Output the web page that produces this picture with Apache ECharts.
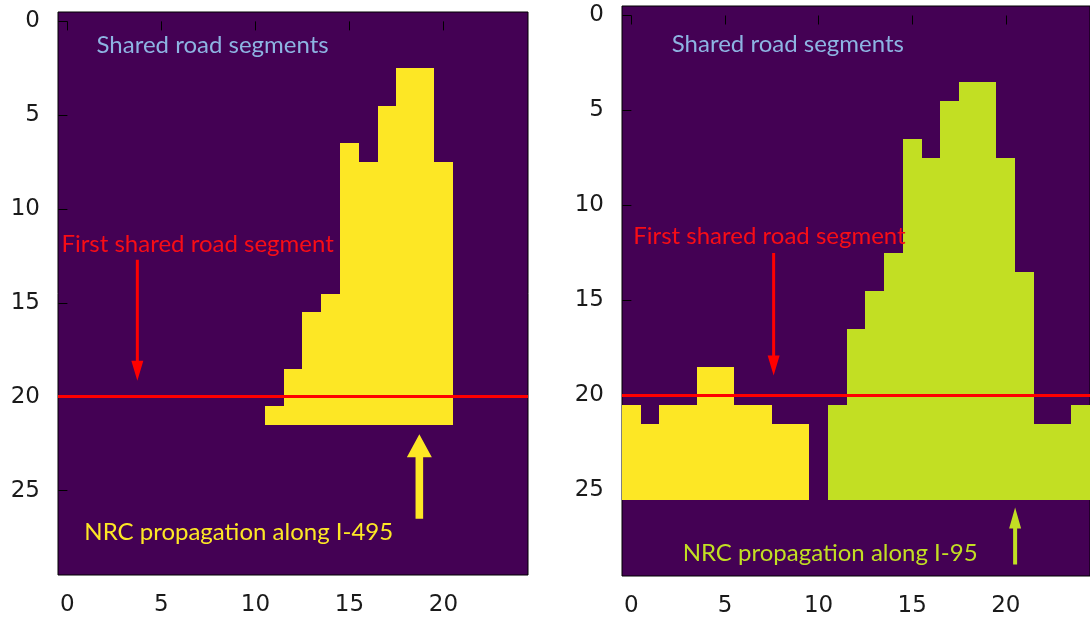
<!DOCTYPE html>
<html>
<head>
<meta charset="utf-8">
<script src="https://cdn.jsdelivr.net/npm/echarts@6/dist/echarts.min.js"></script>
<style>
  html, body { margin: 0; padding: 0; background: #ffffff; }
  #chart { width: 1090px; height: 620px; }
</style>
</head>
<body>
<div id="chart"></div>
<script>
// ---- data -----------------------------------------------------------------
const xTicks = [0, 5, 10, 15, 20];
const yTicks = [0, 5, 10, 15, 20, 25];
const firstSharedRow = 20;

// First occupied row of each road-segment column (null = no congestion);
// occupied cells run from that row down to the panel's last row.
const i495Top = [null, null, null, null, null, null, null, null, null, null, null,
                 21, 19, 16, 15, 7, 8, 5, 3, 3, 8, null, null, null, null];
const i495LastRow = 21;

const i95SharedTop = [21, 22, 21, 21, 19, 19, 21, 21, 22, 22,
                      null, null, null, null, null, null, null, null, null, null, null, null, null, null, null];
const i95Top = [null, null, null, null, null, null, null, null, null, null, null,
                21, 17, 15, 13, 7, 8, 5, 4, 4, 8, 14, 22, 22, 21];
const i95LastRow = 25;

// annotation texts: [x, y, text]
const leftNotes = [
  [1.55, 1.25, 'Shared road segments'],
  [-0.32, 11.9, 'First shared road segment'],
  [0.9, 27.2, 'NRC propagation along I-495']
];
const rightNotes = [
  [2.16, 1.5, 'Shared road segments'],
  [0.1, 11.6, 'First shared road segment'],
  [2.74, 28.3, 'NRC propagation along I-95']
];

// arrows: [x, tail y, tip y]
const leftArrows = [
  [3.72, 12.7, 19.15],
  [18.72, 26.5, 22.0]
];
const rightArrows = [
  [7.6, 12.5, 18.95],
  [20.5, 28.9, 25.9]
];

// ---- styles ---------------------------------------------------------------
const BG = '#440154';
const YELLOW = '#fde725';
const GREEN = '#c2df23';
const RED = '#ff0000';
const BLUE = '#8db4e2';
const noteColors = [BLUE, '#f80d16', null];
const noteFont = 'Lato, "Open Sans", sans-serif';
const noteSize = 24;
// arrow geometry in pixels: shaft half width, head half width, head length
const leftArrowStyle = [
  { color: RED, shaft: 1.5, head: 6, len: 20 },
  { color: YELLOW, shaft: 3.8, head: 12.5, len: 23 }
];
const rightArrowStyle = [
  { color: RED, shaft: 1.5, head: 6, len: 20 },
  { color: GREEN, shaft: 2, head: 6, len: 21 }
];

function columns(tops, lastRow) {
  const out = [];
  tops.forEach((t, c) => { if (t !== null) out.push([c, t, lastRow]); });
  return out;
}

function cellSeries(tops, lastRow, color, idx) {
  return {
    type: 'custom',
    xAxisIndex: idx, yAxisIndex: idx,
    z: 2,
    silent: true,
    animation: false,
    data: columns(tops, lastRow),
    renderItem: function (params, api) {
      const c = api.value(0), top = api.value(1), last = api.value(2);
      const p1 = api.coord([c - 0.5, top - 0.5]);
      const p2 = api.coord([c + 0.5, last + 0.5]);
      // snap to whole pixels so neighbouring columns meet without seams
      const x0 = Math.round(Math.min(p1[0], p2[0])), x1 = Math.round(Math.max(p1[0], p2[0]));
      const y0 = Math.round(Math.min(p1[1], p2[1])), y1 = Math.round(Math.max(p1[1], p2[1]));
      return {
        type: 'rect',
        shape: { x: x0, y: y0, width: x1 - x0, height: y1 - y0 },
        style: { fill: color }
      };
    }
  };
}

function arrowSeries(arrows, styles, idx) {
  return {
    type: 'custom',
    xAxisIndex: idx, yAxisIndex: idx,
    z: 6,
    silent: true,
    animation: false,
    data: arrows,
    renderItem: function (params, api) {
      const s = styles[params.dataIndex];
      const x = api.value(0);
      const tail = api.coord([x, api.value(1)]);
      const tip = api.coord([x, api.value(2)]);
      const dx = tip[0] - tail[0], dy = tip[1] - tail[1];
      const d = Math.sqrt(dx * dx + dy * dy);
      const ux = dx / d, uy = dy / d, nx = -uy, ny = ux;
      const bx = tip[0] - ux * s.len, by = tip[1] - uy * s.len;
      const pts = [
        [tail[0] + nx * s.shaft, tail[1] + ny * s.shaft],
        [bx + nx * s.shaft, by + ny * s.shaft],
        [bx + nx * s.head, by + ny * s.head],
        [tip[0], tip[1]],
        [bx - nx * s.head, by - ny * s.head],
        [bx - nx * s.shaft, by - ny * s.shaft],
        [tail[0] - nx * s.shaft, tail[1] - ny * s.shaft]
      ];
      return { type: 'polygon', shape: { points: pts }, style: { fill: s.color } };
    }
  };
}

function noteSeries(notes, lastColor, idx) {
  return {
    type: 'custom',
    xAxisIndex: idx, yAxisIndex: idx,
    z: 7,
    silent: true,
    animation: false,
    clip: false,
    data: notes,
    renderItem: function (params, api) {
      const p = api.coord([api.value(0), api.value(1)]);
      const fill = noteColors[params.dataIndex] || lastColor;
      return {
        type: 'text',
        x: p[0], y: p[1],
        style: {
          text: notes[params.dataIndex][2],
          fill: fill,
          font: noteSize + 'px ' + noteFont,
          align: 'left', verticalAlign: 'middle',
          textAlign: 'left', textVerticalAlign: 'middle'
        }
      };
    }
  };
}

function xAxis(idx) {
  return {
    type: 'value', gridIndex: idx, min: -0.5, max: 24.5,
    axisLine: { show: false },
    splitLine: { show: false },
    axisTick: { show: true, customValues: xTicks, length: 9, lineStyle: { color: '#000', width: 1 } },
    axisLabel: { customValues: xTicks, fontFamily: '"DejaVu Sans"', fontSize: 23, color: '#1a1a1a', margin: 19 }
  };
}
function yAxis(idx) {
  return {
    type: 'value', gridIndex: idx, min: -0.5, max: 29.5, inverse: true,
    axisLine: { show: false },
    splitLine: { show: false },
    axisTick: { show: true, customValues: yTicks, length: 9, lineStyle: { color: '#000', width: 1 } },
    axisLabel: { customValues: yTicks, fontFamily: '"DejaVu Sans"', fontSize: 23, color: '#1a1a1a', margin: 18 }
  };
}

const redLine = {
  silent: true,
  animation: false,
  symbol: ['none', 'none'],
  label: { show: false },
  lineStyle: { color: RED, width: 3, type: 'solid' },
  data: [{ yAxis: firstSharedRow }]
};

const chart = echarts.init(document.getElementById('chart'), null, { renderer: 'canvas' });
chart.setOption({
  animation: false,
  backgroundColor: '#ffffff',
  grid: [
    { left: 58, top: 12, width: 470, height: 563, show: true, backgroundColor: BG, borderColor: '#000', borderWidth: 1 },
    { left: 622, top: 6, width: 475, height: 570, show: true, backgroundColor: BG, borderColor: '#000', borderWidth: 1 }
  ],
  xAxis: [xAxis(0), xAxis(1)],
  yAxis: [yAxis(0), yAxis(1)],
  series: [
    Object.assign(cellSeries(i495Top, i495LastRow, YELLOW, 0), { markLine: redLine }),
    cellSeries(i95SharedTop, i95LastRow, YELLOW, 1),
    Object.assign(cellSeries(i95Top, i95LastRow, GREEN, 1), { markLine: redLine }),
    arrowSeries(leftArrows, leftArrowStyle, 0),
    arrowSeries(rightArrows, rightArrowStyle, 1),
    noteSeries(leftNotes, YELLOW, 0),
    noteSeries(rightNotes, GREEN, 1)
  ]
});
</script>
</body>
</html>
